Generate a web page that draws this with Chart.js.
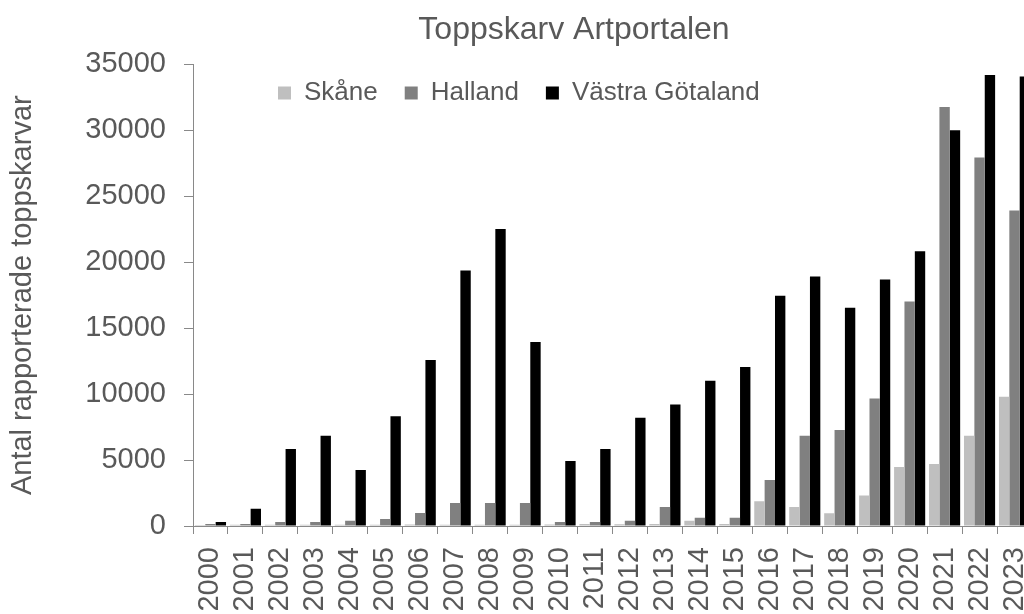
<!DOCTYPE html>
<html lang="sv">
<head>
    <meta charset="UTF-8">
    <title>Toppskarv Artportalen</title>
    <script src="https://cdn.jsdelivr.net/npm/chart.js"></script>
    <style>
        body { margin: 0; overflow: hidden; background: #fff; }
        canvas { display: block; }
    </style>
</head>
<body>
<canvas id="chart" width="1148" height="614"></canvas>
<script>
    // Data
    const years = ['2000', '2001', '2002', '2003', '2004', '2005', '2006', '2007', '2008', '2009', '2010', '2011',
                   '2012', '2013', '2014', '2015', '2016', '2017', '2018', '2019', '2020', '2021', '2022', '2023'];
    const skane = [80, 90, 100, 90, 100, 100, 120, 100, 100, 100, 120, 150,
                   130, 150, 400, 150, 1870, 1440, 960, 2320, 4470, 4700, 6840, 9800];
    const halland = [150, 150, 300, 300, 400, 530, 990, 1740, 1740, 1740, 300, 300,
                     400, 1440, 630, 630, 3480, 6840, 7270, 9670, 17020, 31770, 27950, 23920];
    const vastraGotaland = [300, 1310, 5830, 6840, 4240, 8330, 12580, 19370, 22520, 13960, 4920, 5830,
                            8210, 9220, 11010, 12050, 17450, 18920, 16540, 18690, 20830, 30000, 34190, 34090];
    const yTicks = [0, 5000, 10000, 15000, 20000, 25000, 30000, 35000];

    const font = "'Liberation Sans', Arial, sans-serif";
    const textColor = '#595959';
    const axisColor = '#898989';

    // legend sits inside the plot area, under the 35000 line
    const legendInside = {
        id: 'legendInside',
        beforeLayout(chart) {
            const lg = chart.legend;
            if (lg && !lg._inside) {
                const fit = lg.fit;
                lg.fit = function () { fit.call(this); this.height = 0; };
                lg._inside = true;
            }
        },
        afterLayout(chart) {
            const lg = chart.legend;
            lg.left = 251;
            lg.right = 1100;
            lg.top = 53;
            lg.bottom = 140;   // legend clips to its own box
        }
    };

    new Chart(document.getElementById('chart'), {
        type: 'bar',
        data: {
            labels: years,
            datasets: [
                { label: 'Skåne', data: skane, backgroundColor: '#bfbfbf' },
                { label: 'Halland', data: halland, backgroundColor: '#808080' },
                { label: 'Västra Götaland', data: vastraGotaland, backgroundColor: '#000000' }
            ]
        },
        options: {
            responsive: false,
            animation: false,
            devicePixelRatio: 1,
            layout: { padding: 0 },
            datasets: {
                bar: { categoryPercentage: 0.89, barPercentage: 1.0 }
            },
            plugins: {
                title: {
                    display: true,
                    text: 'Toppskarv Artportalen',
                    color: textColor,
                    font: { family: font, size: 32, weight: 'normal' },
                    padding: { top: 11, bottom: 15 }
                },
                legend: {
                    display: true,
                    position: 'top',
                    align: 'start',
                    labels: {
                        color: textColor,
                        font: { family: font, size: 26 },
                        boxWidth: 13,
                        boxHeight: 13,
                        padding: 27
                    }
                },
                tooltip: { enabled: false }
            },
            scales: {
                x: {
                    grid: {
                        offset: true,
                        drawOnChartArea: false,
                        drawTicks: true,
                        tickLength: 8,
                        color: axisColor
                    },
                    border: { display: true, color: axisColor, width: 1 },
                    ticks: {
                        color: textColor,
                        font: { family: font, size: 29 },
                        minRotation: 90,
                        maxRotation: 90,
                        autoSkip: false,
                        padding: 13
                    },
                    afterFit(scale) { scale.height = 88; }
                },
                y: {
                    min: 0,
                    max: 35000,
                    afterBuildTicks(scale) { scale.ticks = yTicks.map(v => ({ value: v })); },
                    grid: {
                        drawOnChartArea: false,
                        drawTicks: true,
                        tickLength: 9,
                        color: axisColor
                    },
                    border: { display: true, color: axisColor, width: 1 },
                    ticks: {
                        color: textColor,
                        font: { family: font, size: 29 },
                        padding: 18,
                        callback: v => String(v)
                    },
                    title: {
                        display: true,
                        text: 'Antal rapporterade toppskarvar',
                        color: textColor,
                        font: { family: font, size: 29 },
                        padding: { top: 6, bottom: 0 }
                    },
                    afterFit(scale) { scale.width = 193; }
                },
                // empty right-hand spacer: the plot runs past the visible page edge
                spacer: {
                    type: 'linear',
                    position: 'right',
                    display: true,
                    grid: { display: false },
                    border: { display: false },
                    ticks: { display: false },
                    afterFit(scale) { scale.width = 116; }
                }
            }
        },
        plugins: [legendInside]
    });
</script>
</body>
</html>
